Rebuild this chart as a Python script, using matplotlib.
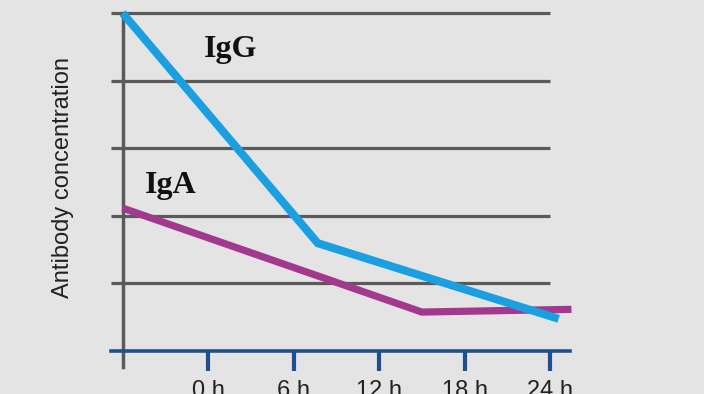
import matplotlib
matplotlib.use("Agg")
import matplotlib.pyplot as plt
from matplotlib import font_manager

names = {f.name for f in font_manager.fontManager.ttflist}
narrow = "Liberation Sans Narrow" if "Liberation Sans Narrow" in names else "Liberation Sans"

# Data (hours, relative concentration)
hours = [0, 6, 12, 18, 24]
tick_labels = ["0 h", "6 h", "12 h", "18 h", "24 h"]
igg_x = [-6.0, 7.7, 24.6]
igg_y = [5.0, 1.59, 0.47]
iga_x = [-6.0, 15.0, 25.5]
iga_y = [2.11, 0.57, 0.61]
grid_levels = [1, 2, 3, 4, 5]

BG = "#e4e4e4"
fig = plt.figure(figsize=(7.04, 3.94), dpi=100, facecolor=BG)
ax = fig.add_axes([0, 0, 1, 1], facecolor=BG)
ax.set_xlim(-14.6, 34.8)
ax.set_ylim(-0.644, 5.193)

# gridlines
ax.hlines(grid_levels, -6.8, 24.0, color="#5a5a5a", lw=2.3, zorder=1)

# spines
for s in ["top", "right"]:
    ax.spines[s].set_visible(False)
ax.spines["left"].set_position(("data", -6.0))
ax.spines["left"].set_bounds(-0.25, 5.0)
ax.spines["left"].set_color("#5a5a5a")
ax.spines["left"].set_linewidth(2.5)
ax.spines["left"].set_zorder(1)
ax.spines["bottom"].set_position(("data", 0))
ax.spines["bottom"].set_bounds(-6.8, 25.4)
ax.spines["bottom"].set_color("#1d4f91")
ax.spines["bottom"].set_linewidth(2.6)

ax.set_yticks([])
ax.set_xticks(hours)
ax.set_xticklabels(tick_labels, family=narrow, fontsize=17, color="#222222")
ax.tick_params(axis="x", direction="out", length=14.5, width=3.0, color="#1d4f91", pad=7)

# series
ax.plot(iga_x, iga_y, color="#a3398f", lw=5.2, solid_joinstyle="miter", solid_capstyle="butt", zorder=3)
ax.plot(igg_x, igg_y, color="#1a9fe0", lw=5.8, solid_joinstyle="miter", solid_capstyle="butt", zorder=4)

# labels
ax.text(1.6, 4.46, "IgG", family="Liberation Serif", fontweight="bold", fontsize=23, color="#111111", va="center", ha="center")
ax.text(-2.6, 2.45, "IgA", family="Liberation Serif", fontweight="bold", fontsize=23, color="#111111", va="center", ha="center")
ax.text(-10.15, 2.57, "Antibody concentration", family=narrow, fontsize=17, rotation=90,
        va="center", ha="center", color="#222222")

fig.savefig("out.png", dpi=100, facecolor=BG)
